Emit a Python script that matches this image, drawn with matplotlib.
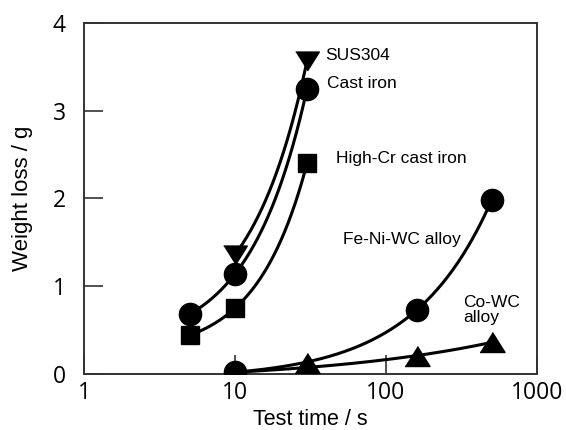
import numpy as np
import matplotlib
matplotlib.use('Agg')
import matplotlib.pyplot as plt

plt.rcParams['font.family'] = ['Liberation Sans', 'DejaVu Sans']

# test time (s) and weight loss (g) for each material
t_sus = [10, 30]
w_sus = [1.36, 3.57]
t_cast = [5, 10, 30]
w_cast = [0.68, 1.14, 3.25]
t_hicr = [5, 10, 30]
w_hicr = [0.44, 0.75, 2.40]
t_fenw = [10, 160, 500]
w_fenw = [0.02, 0.73, 1.98]
t_cowc = [30, 160, 500]
w_cowc = [0.12, 0.21, 0.36]

xticks = [1, 10, 100, 1000]
xticklabels = ['1', '10', '100', '1000']
yticks = [0, 1, 2, 3, 4]


def exp_fit(t, w, k=None):
    # smooth trend y = c + a*exp(k*log10(t)) through the measured points
    u = np.log10(t)
    w = np.asarray(w, float)
    if k is None:
        r = (w[2] - w[1]) / (w[1] - w[0])
        lo, hi = 1e-4, 40.0
        for _ in range(200):
            m = 0.5 * (lo + hi)
            g = (np.exp(m * u[2]) - np.exp(m * u[1])) / (np.exp(m * u[1]) - np.exp(m * u[0]))
            if g < r:
                lo = m
            else:
                hi = m
        k = 0.5 * (lo + hi)
    a = (w[1] - w[0]) / (np.exp(k * u[1]) - np.exp(k * u[0]))
    c = w[0] - a * np.exp(k * u[0])
    return a, c, k


def curve(ax, fit, t0, t1):
    a, c, k = fit
    tt = np.logspace(np.log10(t0), np.log10(t1), 200)
    ax.plot(tt, c + a * np.exp(k * np.log10(tt)), color='black', lw=2.2, zorder=2)


fig = plt.figure(figsize=(5.66, 4.30), dpi=100)
ax = fig.add_axes([84 / 566, 1 - 374 / 430, (537 - 84) / 566, (374 - 23) / 430])

fit_cast = exp_fit(t_cast, w_cast)
curve(ax, fit_cast, 5, 30)
curve(ax, exp_fit(t_sus, w_sus, k=fit_cast[2]), 10, 30)
curve(ax, exp_fit(t_hicr, w_hicr), 5, 30)
curve(ax, exp_fit(t_fenw, w_fenw), 10, 500)
# Co-WC trend drawn from the common 10 s start point
curve(ax, exp_fit([t_fenw[0]] + t_cowc[1:], [w_fenw[0]] + w_cowc[1:]), 10, 500)

tri_up = [(-1, -0.8), (1, -0.8), (0, 0.8)]
tri_dn = [(-1, 0.8), (1, 0.8), (0, -0.8)]
ax.plot(t_sus, w_sus, ls='none', marker=tri_dn, ms=17, color='black', zorder=3)
ax.plot(t_cast, w_cast, ls='none', marker='o', ms=16, color='black', zorder=3)
ax.plot(t_hicr, w_hicr, ls='none', marker='s', ms=13, color='black', zorder=3)
ax.plot(t_fenw, w_fenw, ls='none', marker='o', ms=16, color='black', zorder=3)
ax.plot(t_cowc, w_cowc, ls='none', marker=tri_up, ms=18, color='black', zorder=3)

lab = dict(fontsize=12.5, va='center', ha='left')
ax.text(39.5, 3.63, 'SUS304', **lab)
ax.text(40.5, 3.31, 'Cast iron', **lab)
ax.text(47, 2.46, 'High-Cr cast iron', **lab)
ax.text(52, 1.53, 'Fe-Ni-WC alloy', **lab)
ax.text(324, 0.73, 'Co-WC\nalloy', linespacing=1.0, **lab)

ax.set_xscale('log')
ax.set_xlim(1, 1000)
ax.set_ylim(0, 4)
ax.set_xticks(xticks)
ax.set_xticklabels(xticklabels)
ax.set_yticks(yticks)
ax.minorticks_off()
ax.tick_params(direction='in', length=14, width=1.2, color='#333333',
               top=False, right=False)
ax.tick_params(axis='x', pad=5)
ax.tick_params(axis='y', pad=13)
for lbl in ax.get_xticklabels() + ax.get_yticklabels():
    lbl.set_fontfamily('Open Sans')
    lbl.set_fontsize(16.5)
for s in ax.spines.values():
    s.set_color('#333333')
    s.set_linewidth(1.4)

ax.set_xlabel('Test time / s', fontsize=15.5, labelpad=3)
ax.set_ylabel('Weight loss / g', fontsize=16, labelpad=14)

fig.savefig('out.png', dpi=100)
